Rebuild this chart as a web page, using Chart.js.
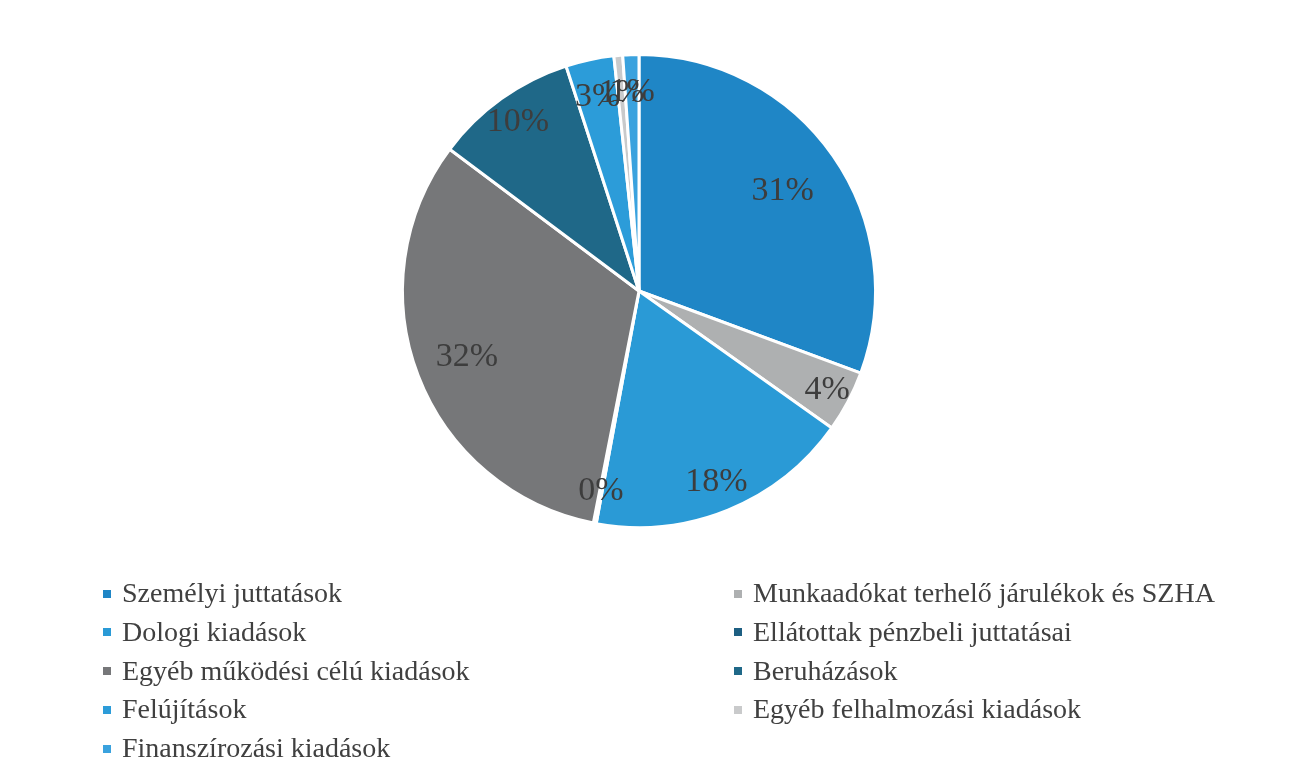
<!DOCTYPE html>
<html>
<head>
<meta charset="utf-8">
<script src="https://cdn.jsdelivr.net/npm/chart.js@4/dist/chart.umd.min.js"></script>
<style>
  body { margin: 0; background: #fff; }
  #wrap { position: relative; width: 1290px; height: 778px; }
  #legend { position: absolute; top: 577px; left: 0; width: 1290px; font-family: "Liberation Serif", serif; font-size: 28px; color: #404040; }
  .item { position: absolute; white-space: nowrap; line-height: 32px; }
  .box { display: inline-block; width: 8px; height: 8px; margin-right: 11px; vertical-align: middle; position: relative; top: -2px; }
</style>
</head>
<body>
<div id="wrap">
  <canvas id="PieChart" width="1290" height="778"></canvas>
  <div id="legend"></div>
</div>
<script>
// kategóriák és értékek (százalék, a képről becsülve)
const categories = [
  'Személyi juttatások',
  'Munkaadókat terhelő járulékok és SZHA',
  'Dologi kiadások',
  'Ellátottak pénzbeli juttatásai',
  'Egyéb működési célú kiadások',
  'Beruházások',
  'Felújítások',
  'Egyéb felhalmozási kiadások',
  'Finanszírozási kiadások'
];
const values = [30.7, 4.2, 18.1, 0.2, 32.2, 9.8, 3.3, 0.6, 1.1];
const colors = ['#1f86c6', '#aeb0b1', '#2a9ad6', '#1d5f82', '#767779', '#1f6888', '#2c9cd9', '#c9cacb', '#3aa2de'];
// címkék távolsága a középponttól (a sugár arányában)
const labelRadius = [0.74, 0.9, 0.87, 0.86, 0.78, 0.88, 0.84, 0.84, 0.84];

const total = values.reduce((a, b) => a + b, 0);

// százalék címkék a szeletekre
const labelPlugin = {
  id: 'pctLabels',
  afterDatasetsDraw(chart) {
    const ctx = chart.ctx;
    const meta = chart.getDatasetMeta(0);
    ctx.save();
    ctx.font = '34px "Liberation Serif"';
    ctx.fillStyle = '#3d3d3d';
    ctx.textAlign = 'center';
    ctx.textBaseline = 'middle';
    meta.data.forEach((arc, i) => {
      const mid = (arc.startAngle + arc.endAngle) / 2;
      const r = arc.outerRadius * labelRadius[i];
      const x = arc.x + Math.cos(mid) * r;
      const y = arc.y + Math.sin(mid) * r;
      ctx.fillText(Math.round(values[i] / total * 100) + '%', x, y);
    });
    ctx.restore();
  }
};

new Chart(document.getElementById('PieChart'), {
  type: 'pie',
  data: {
    labels: categories,
    datasets: [{
      data: values,
      backgroundColor: colors,
      borderColor: '#ffffff',
      borderWidth: 3
    }]
  },
  options: {
    responsive: false,
    animation: false,
    layout: { padding: { top: 53, bottom: 249, left: 0, right: 12 } },
    plugins: {
      legend: { display: false },
      tooltip: { enabled: false }
    }
  },
  plugins: [labelPlugin]
});

// legenda két oszlopban
const legend = document.getElementById('legend');
categories.forEach((c, i) => {
  const d = document.createElement('div');
  d.className = 'item';
  d.style.left = (i % 2 === 0 ? 103 : 734) + 'px';
  d.style.top = (Math.floor(i / 2) * 38.8) + 'px';
  d.innerHTML = '<span class="box" style="background:' + colors[i] + '"></span>' + c;
  legend.appendChild(d);
});
</script>
</body>
</html>
